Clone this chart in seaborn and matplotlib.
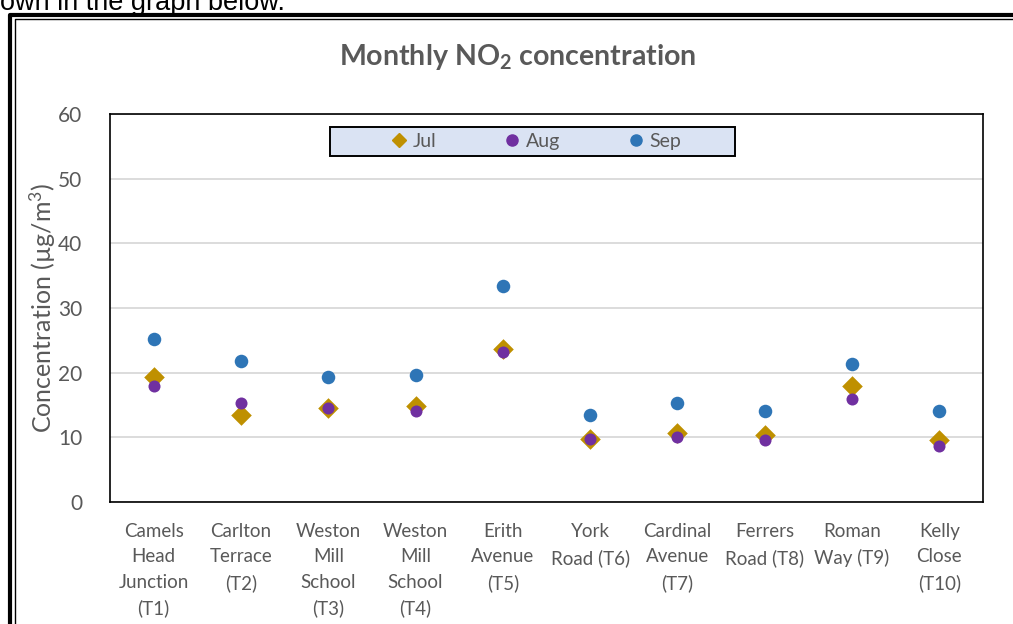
import numpy as np
import pandas as pd
import matplotlib.pyplot as plt
from matplotlib.lines import Line2D
from matplotlib.patches import Rectangle
import seaborn as sns

# data
sites = ["Camels\nHead\nJunction\n(T1)", "Carlton\nTerrace\n(T2)", "Weston\nMill\nSchool\n(T3)",
         "Weston\nMill\nSchool\n(T4)", "Erith\nAvenue\n(T5)", "York\nRoad (T6)",
         "Cardinal\nAvenue\n(T7)", "Ferrers\nRoad (T8)", "Roman\nWay (T9)", "Kelly\nClose\n(T10)"]
jul = [19.4, 13.4, 14.5, 14.9, 23.6, 9.7, 10.7, 10.4, 18.0, 9.6]
aug = [17.9, 15.3, 14.6, 14.1, 23.2, 9.8, 10.0, 9.6, 16.0, 8.7]
sep = [25.2, 21.8, 19.4, 19.7, 33.4, 13.4, 15.3, 14.1, 21.4, 14.0]
y_ticks = [0, 10, 20, 30, 40, 50, 60]

sns.set_theme(style="white")
plt.rcParams["font.family"] = ["Lato", "DejaVu Sans"]
plt.rcParams["mathtext.fontset"] = "custom"
plt.rcParams["mathtext.rm"] = "Lato"
plt.rcParams["mathtext.it"] = "Lato:italic"
plt.rcParams["mathtext.bf"] = "Lato:bold"
TXT = "#595959"

fig = plt.figure(figsize=(10.13, 6.24), dpi=100)
W, H = 1013, 624
ax = fig.add_axes([110 / W, 1 - 502 / H, 873 / W, 388 / H])

df = pd.DataFrame({"site": sites, "Jul": jul, "Aug": aug, "Sep": sep})
sns.scatterplot(data=df, x="site", y="Jul", marker="D", s=110, color="#BF9000",
                linewidth=0, ax=ax, zorder=3)
sns.scatterplot(data=df, x="site", y="Aug", marker="o", s=75, color="#7030A0",
                linewidth=0, ax=ax, zorder=4)
sns.scatterplot(data=df, x="site", y="Sep", marker="o", s=95, color="#2E75B6",
                linewidth=0, ax=ax, zorder=5)

ax.set_xlim(-0.5, len(sites) - 0.5)
ax.set_ylim(0, 60)
ax.set_yticks(y_ticks)
ax.yaxis.grid(True, color="#D9D9D9", lw=1.3)
ax.set_axisbelow(True)
for sp in ax.spines.values():
    sp.set_color("black")
    sp.set_linewidth(1.2)
ax.tick_params(axis="x", length=0, labelsize=13.5, labelcolor=TXT, pad=15)
ax.tick_params(axis="y", length=0, labelsize=15, labelcolor=TXT, pad=20)
for lab in ax.get_xticklabels():
    lab.set_linespacing(1.6)
ax.set_xlabel("")
ax.set_ylabel("Concentration (µg/m$^\\mathregular{3}$)", fontsize=18, color=TXT, labelpad=0)

fig.text(518 / W, 1 - 57 / H, "Monthly NO$_\\mathbf{2}$ concentration", ha="center",
         va="center", fontsize=20.5, fontweight="bold", color=TXT)

# legend box
ax.add_patch(Rectangle(((330 - 110) / 873, (502 - 156) / 388), 405 / 873, 29 / 388,
                       transform=ax.transAxes, facecolor="#DAE3F3", edgecolor="black",
                       lw=1.4, zorder=6))
handles = [Line2D([], [], marker="D", ls="", color="#BF9000", markersize=7),
           Line2D([], [], marker="o", ls="", color="#7030A0", markersize=8),
           Line2D([], [], marker="o", ls="", color="#2E75B6", markersize=8)]
leg = ax.legend(handles, ["Jul", "Aug", "Sep"], ncol=3, frameon=False, loc="center",
                bbox_to_anchor=((536 - 110) / 873, (502 - 141.5) / 388), fontsize=14,
                handlelength=0.8, handletextpad=0.3, columnspacing=3.5)
leg.set_zorder(7)
for t in leg.get_texts():
    t.set_color(TXT)

# page text and outer frame of the embedded chart
fig.text(0, 1 - 10 / H, "own in the graph below.", fontsize=19.5, color="black",
         family="Liberation Sans", va="baseline", ha="left")
fig.add_artist(Line2D([10 / W, 10 / W, 1], [0, 1 - 15 / H, 1 - 15 / H],
                      transform=fig.transFigure, color="black", lw=3))
fig.add_artist(Line2D([14.8 / W, 14.8 / W, 1], [0, 1 - 19.3 / H, 1 - 19.3 / H],
                      transform=fig.transFigure, color="black", lw=1))

fig.savefig("out.png", dpi=100)
